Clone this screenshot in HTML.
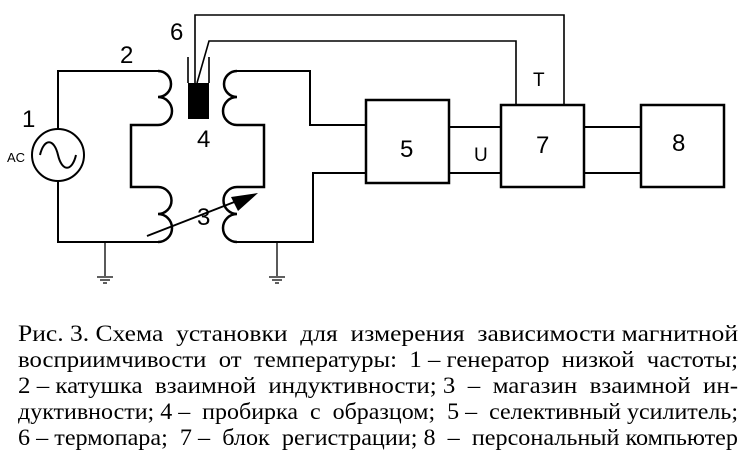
<!DOCTYPE html>
<html><head><meta charset="utf-8"><style>body{margin:0;background:#fff}svg{display:block}</style></head><body>
<svg width="754" height="469" viewBox="0 0 754 469" xmlns="http://www.w3.org/2000/svg">
<g fill="none" stroke="#000" stroke-width="2">
<path d="M58 129 V71 H158 M58 181 V242 H158"/>
<circle cx="58" cy="155" r="26"/>
<path d="M40 155 C44 138 54 138 58 155 C62 172 72 172 76 155"/>
<path d="M158 71 A13 13 0 0 1 158 97 A14 14 0 0 1 158 125 H131 V187 H158 A13.5 13.5 0 0 1 158 214 A14 14 0 0 1 158 242" stroke-width="2.5"/>
<path d="M237 71 A13 13 0 0 0 237 97 A14 14 0 0 0 237 125 H264 V187 H237 A13.5 13.5 0 0 0 237 214 A14 14 0 0 0 237 242" stroke-width="2.5"/>
<path d="M237 71 H310 V125 H366 M237 242 H313 V173 H366"/>
<rect x="366" y="100" width="83" height="83" stroke-width="2.5"/>
<rect x="501" y="105" width="83" height="82" stroke-width="2.5"/>
<rect x="641" y="105" width="83" height="82" stroke-width="2.5"/>
<path d="M449 127 H501 M449 173 H501 M584 127 H641 M584 173 H641"/>
<path d="M195 83 V15 H564 V104 M197 83 L209 41 H516 V104" stroke-width="1.6"/>
<path d="M188 57 V83 M209 57 V83" stroke-width="1.6"/>
<path d="M105 242 V276 M97 277 H113 M100 280 H110 M103 283 H107" stroke-width="1.3"/>
<path d="M277 242 V276 M269 277 H285 M272 280 H282 M275 283 H279" stroke-width="1.3"/>
<path d="M147 236 L242 199"/>
</g>
<rect x="188" y="83" width="21" height="36" fill="#000"/>
<polygon points="258,193 238,211 231,197" fill="#000"/>
<g font-family="'Liberation Sans', sans-serif" fill="#000">
<text x="22" y="127" font-size="24">1</text>
<text x="120" y="63" font-size="24">2</text>
<text x="197" y="225" font-size="24">3</text>
<text x="197" y="147" font-size="24">4</text>
<text x="170" y="40" font-size="24">6</text>
<text x="7" y="162" font-size="13">AC</text>
<text x="400" y="157" font-size="24">5</text>
<text x="536" y="153" font-size="24">7</text>
<text x="672" y="151" font-size="24">8</text>
<text x="474" y="161" font-size="19">U</text>
<text x="533" y="86" font-size="19">T</text>
</g>
<g font-family="'Liberation Serif', serif" font-size="23" fill="#000">
<text x="18" y="341" textLength="720" lengthAdjust="spacingAndGlyphs" xml:space="preserve">Рис. 3. Схема  установки  для  измерения  зависимости магнитной</text>
<text x="18" y="367" textLength="720" lengthAdjust="spacingAndGlyphs" xml:space="preserve">восприимчивости  от  температуры:  1 – генератор  низкой  частоты;</text>
<text x="18" y="393" textLength="720" lengthAdjust="spacingAndGlyphs" xml:space="preserve">2 – катушка  взаимной  индуктивности; 3  –  магазин  взаимной  ин-</text>
<text x="18" y="419" textLength="720" lengthAdjust="spacingAndGlyphs" xml:space="preserve">дуктивности; 4 –  пробирка  с  образцом;  5 –  селективный усилитель;</text>
<text x="18" y="445" textLength="720" lengthAdjust="spacingAndGlyphs" xml:space="preserve">6 – термопара;  7 –  блок  регистрации; 8  –  персональный компьютер</text>
</g>
</svg>
</body></html>
